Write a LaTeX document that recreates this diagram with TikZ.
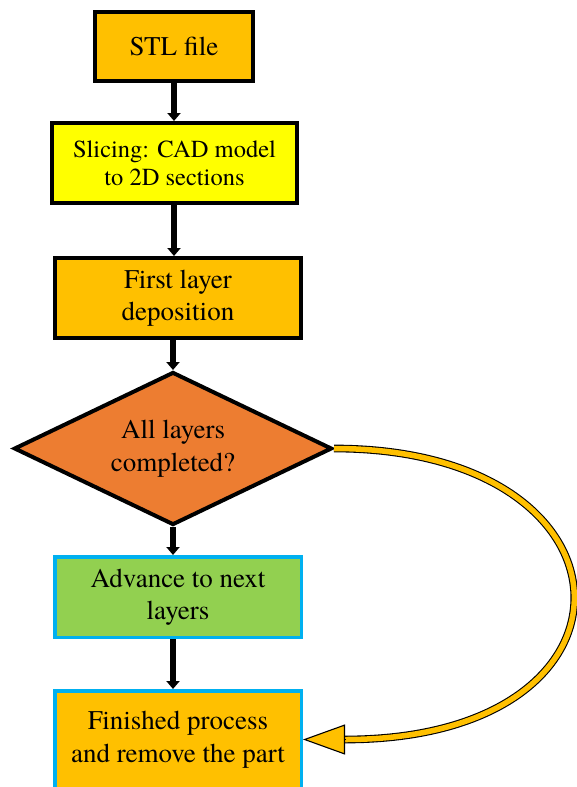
\documentclass[tikz,border=0pt]{standalone}
\usepackage{fontspec}
\setmainfont{TeX Gyre Termes}
\newfontfamily\boxFont{TeX Gyre Termes}
\usepackage{xcolor}
\definecolor{goldFill}{HTML}{FFC000}
\definecolor{sliceFill}{HTML}{FFFF00}
\definecolor{checkFill}{HTML}{ED7D31}
\definecolor{advanceFill}{HTML}{92D050}
\definecolor{skyEdge}{HTML}{00B0F0}
\usepackage{tikz}
\usetikzlibrary{positioning,arrows.meta,shapes.geometric}
\tikzset{%
  flowBox/.style={%
    rectangle,
    draw=black,
    line width=4pt,
    inner sep=0pt,
    align=center,
    font=\boxFont\fontsize{27}{32.5}\selectfont
  },
  fileBox/.style={%
    flowBox,
    fill=goldFill,
    minimum width=158pt,
    minimum height=69pt
  },
  sliceBox/.style={%
    flowBox,
    fill=sliceFill,
    minimum width=245pt,
    minimum height=80pt,
    font=\boxFont\fontsize{24.5}{28}\selectfont
  },
  layerBox/.style={%
    flowBox,
    fill=goldFill,
    minimum width=246pt,
    minimum height=80pt
  },
  decisionBox/.style={%
    diamond,
    aspect=2.07,
    draw=black,
    line width=4pt,
    fill=checkFill,
    inner sep=0pt,
    minimum width=318pt,
    minimum height=153pt,
    align=center,
    font=\boxFont\fontsize{27}{32.5}\selectfont
  },
  blueBox/.style={%
    flowBox,
    draw=skyEdge,
    line width=3.5pt,
    minimum width=246.5pt
  },
  flowArrow/.style={%
    -{Triangle[length=8pt,width=13pt]},
    line width=6pt,
    color=black
  },
  loopLine/.style={%
    draw=black,
    line width=1.1pt,
    double=goldFill,
    double distance=5.5pt
  },
  loopHead/.style={%
    -{Triangle[length=42pt,width=30pt,fill=goldFill]},
    draw=black,
    line width=1.1pt
  }
}

\begin{document}
\begin{tikzpicture}
            \useasboundingbox (0pt,0pt) rectangle (576pt,-787pt);

            \node[fileBox] (stl) at (174pt,-46.5pt) {STL file};
            \node[sliceBox, below=38pt of stl, xshift=0.5pt] (slicing) {Slicing: CAD model\\to 2D sections};
            \node[layerBox, below=51pt of slicing, xshift=3.5pt] (first) {First layer\\deposition};
            \node[decisionBox, below=30pt of first, xshift=-5pt] (check) {All layers\\completed?};
            \node[blueBox, fill=advanceFill, minimum height=80.5pt, below=28pt of check, xshift=5pt] (advance) {Advance to next\\layers};
            \node[blueBox, fill=goldFill, minimum height=97.5pt, below=50pt of advance] (finish) {Finished process\\and remove the part};

            % straight flow
            \draw[flowArrow] (stl.south) -- (stl.south |- slicing.north);
            \draw[flowArrow] (stl.south |- slicing.south) -- (stl.south |- first.north);
            \draw[flowArrow] (check.north |- first.south) -- (check.north);
            \draw[flowArrow] (check.south) -- (check.south |- advance.north);
            \draw[flowArrow] (check.south |- advance.south) -- (check.south |- finish.north);

            % loop back
            \draw[loopLine] (check.east) .. controls +(313pt,0pt) and +(313pt,0pt) .. ([xshift=42pt]finish.east);
            \draw[loopHead] ([xshift=43pt]finish.east) -- (finish.east);
        \end{tikzpicture}
\end{document}
